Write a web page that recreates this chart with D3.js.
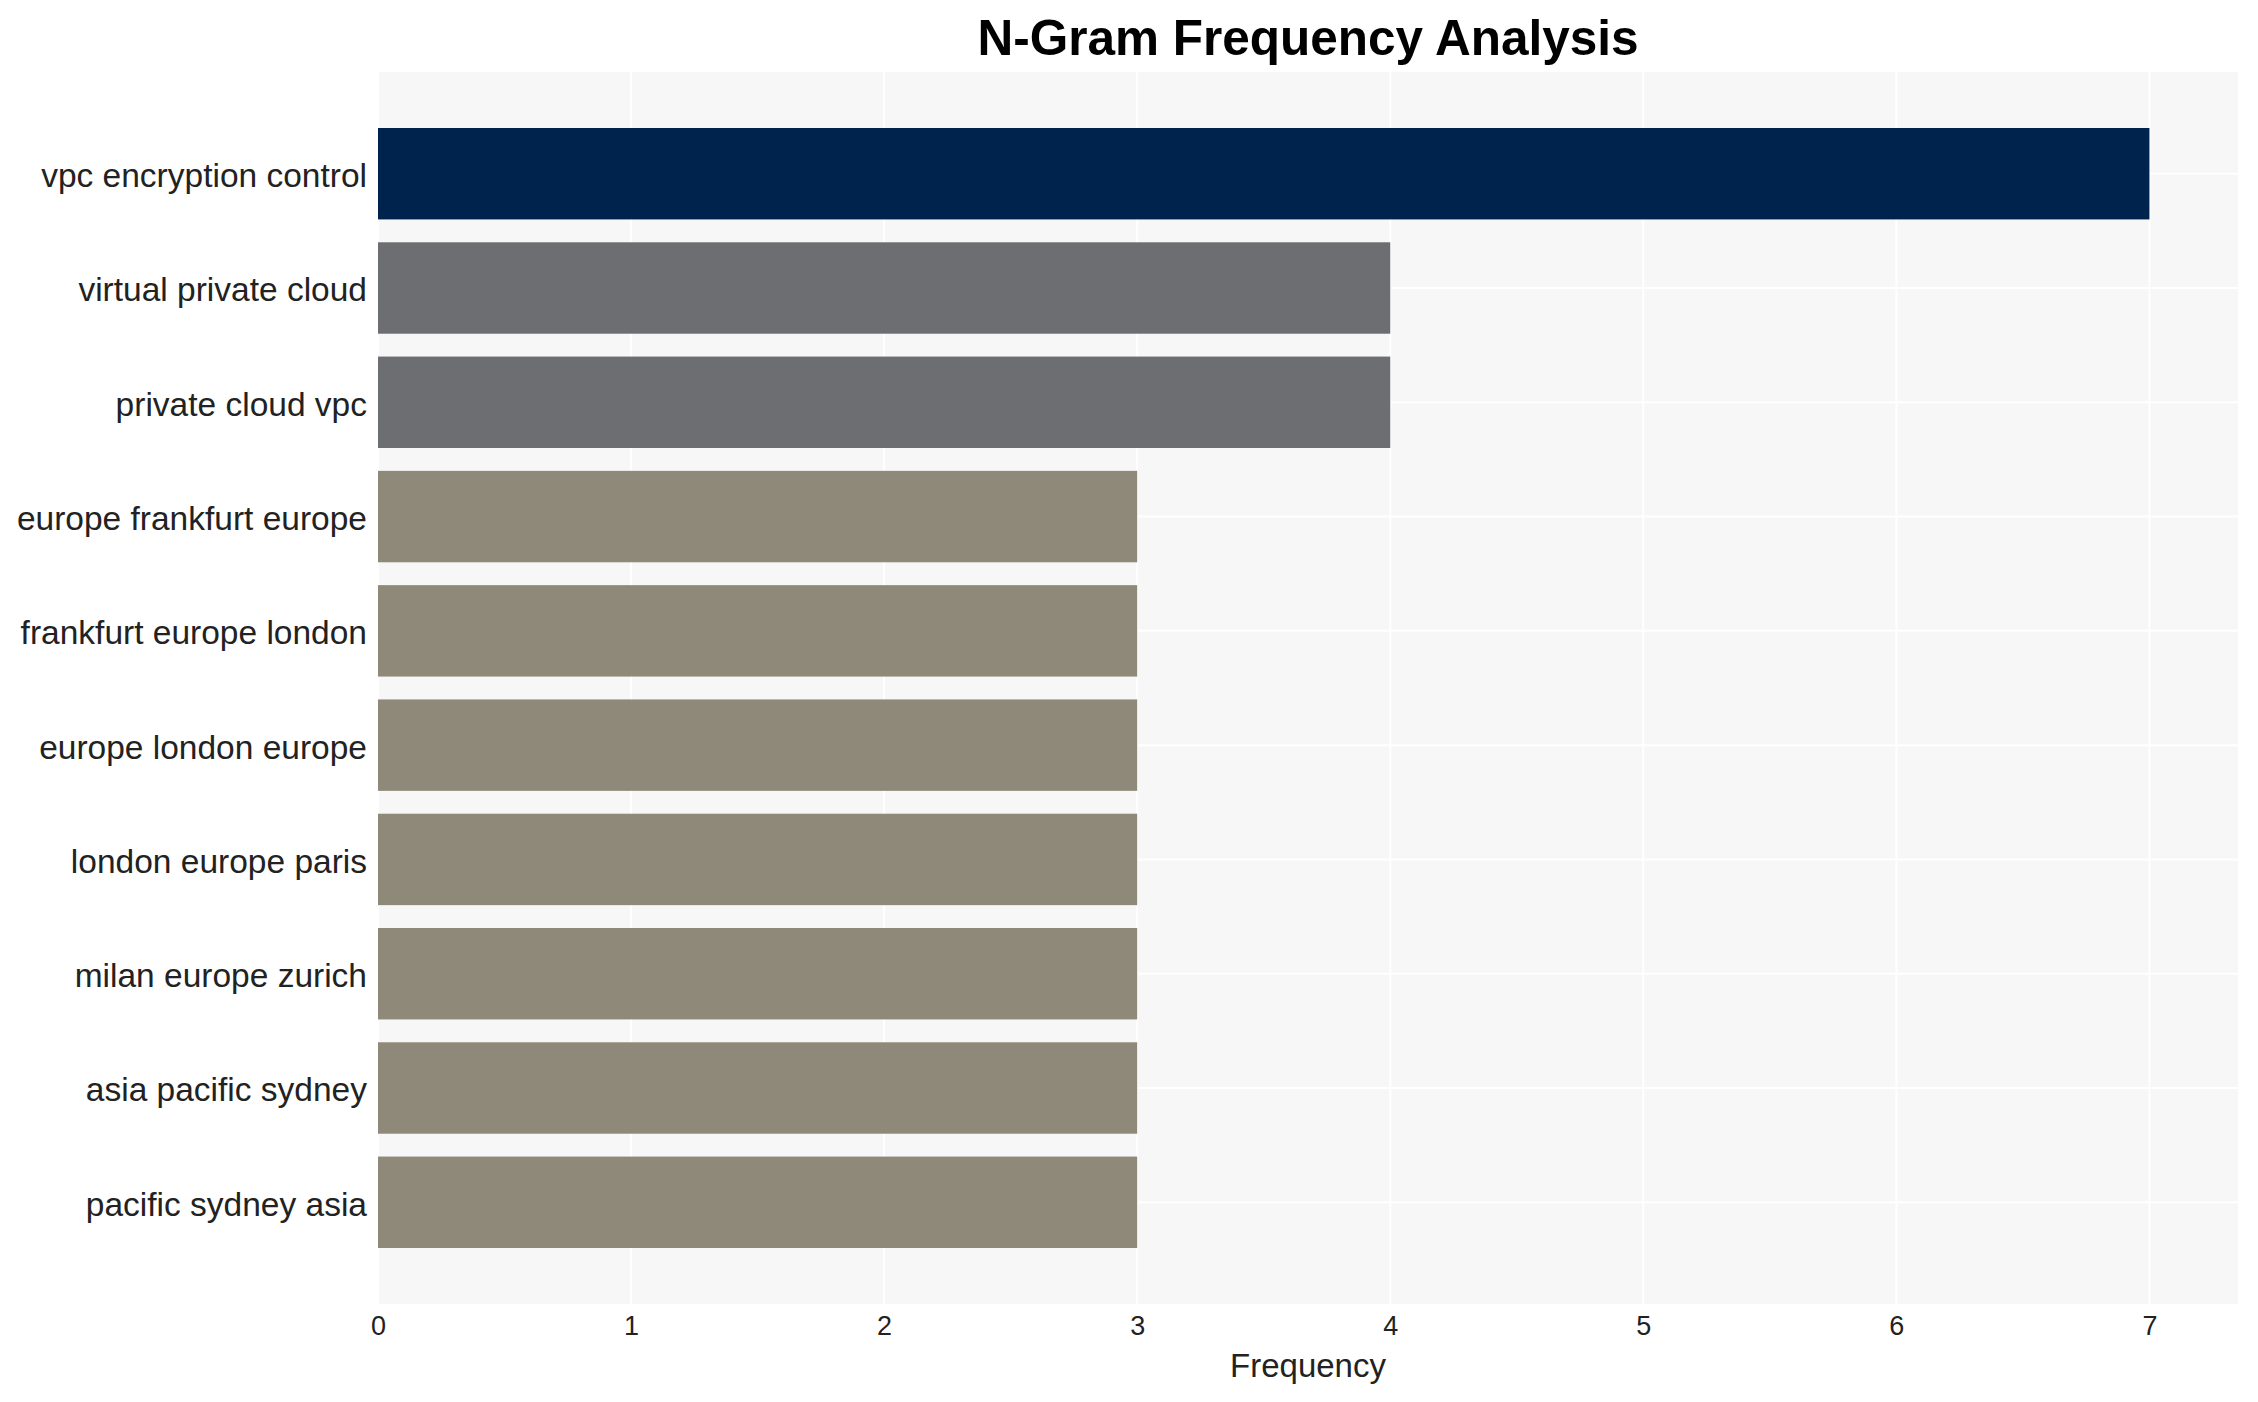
<!DOCTYPE html>
<html>
<head>
<meta charset="utf-8">
<script src="https://cdn.jsdelivr.net/npm/d3@7"></script>
<style>
  html, body { margin: 0; padding: 0; background: #fff; }
  svg text { font-family: "Liberation Sans", Arial, sans-serif; }
</style>
</head>
<body>
<svg id="chart" width="2258" height="1402"></svg>
<script>
// n-grams, top to bottom
var ngrams = [
  "vpc encryption control",
  "virtual private cloud",
  "private cloud vpc",
  "europe frankfurt europe",
  "frankfurt europe london",
  "europe london europe",
  "london europe paris",
  "milan europe zurich",
  "asia pacific sydney",
  "pacific sydney asia"
];
var counts = [7, 4, 4, 3, 3, 3, 3, 3, 3, 3];
var xTicks = [0, 1, 2, 3, 4, 5, 6, 7];

var W = 2258, H = 1402;
var margin = {top: 72, right: 20, bottom: 98, left: 378};
var plotW = W - margin.left - margin.right,
    plotH = H - margin.top - margin.bottom;

// bar colour by count
var colorFor = function(v) {
  if (v >= 7) return "#00234e";
  if (v >= 4) return "#6d6e72";
  return "#8f8979";
};

var svg = d3.select("#chart");

var x = d3.scaleLinear()
  .domain([0, d3.max(counts) * 1.05])
  .range([0, plotW]);

var y = d3.scaleBand()
  .domain(ngrams)
  .range([0, plotH])
  .paddingInner(0.2)
  .paddingOuter(0.49);

var g = svg.append("g")
  .attr("transform", "translate(" + margin.left + "," + margin.top + ")");

g.append("rect")
  .attr("width", plotW)
  .attr("height", plotH)
  .attr("fill", "#f7f7f7");

// grid
g.selectAll(".vgrid").data(xTicks).enter().append("line")
  .attr("x1", function(d) { return x(d); })
  .attr("x2", function(d) { return x(d); })
  .attr("y1", 0).attr("y2", plotH)
  .attr("stroke", "#fff").attr("stroke-width", 2);

g.selectAll(".hgrid").data(ngrams).enter().append("line")
  .attr("x1", 0).attr("x2", plotW)
  .attr("y1", function(d) { return y(d) + y.bandwidth() / 2; })
  .attr("y2", function(d) { return y(d) + y.bandwidth() / 2; })
  .attr("stroke", "#fff").attr("stroke-width", 2);

// bars
g.selectAll(".bar").data(ngrams).enter().append("rect")
  .attr("x", 0)
  .attr("y", function(d) { return y(d); })
  .attr("width", function(d, i) { return x(counts[i]); })
  .attr("height", y.bandwidth())
  .attr("fill", function(d, i) { return colorFor(counts[i]); });

// y axis labels
var yAxis = g.append("g")
  .call(d3.axisLeft(y).tickSize(0).tickPadding(11));
yAxis.select(".domain").remove();
yAxis.selectAll("text")
  .attr("font-size", 33.5)
  .attr("dy", "0.4em")
  .attr("fill", "#222");

// x axis labels
var xAxis = g.append("g")
  .attr("transform", "translate(0," + plotH + ")")
  .call(d3.axisBottom(x).tickValues(xTicks).tickFormat(d3.format("d")).tickSize(0).tickPadding(12));
xAxis.select(".domain").remove();
xAxis.selectAll("text")
  .attr("font-size", 27)
  .attr("fill", "#222");

svg.append("text")
  .attr("x", margin.left + plotW / 2)
  .attr("y", 1377)
  .attr("text-anchor", "middle")
  .attr("font-size", 33)
  .attr("fill", "#222")
  .text("Frequency");

svg.append("text")
  .attr("x", margin.left + plotW / 2)
  .attr("y", 55)
  .attr("text-anchor", "middle")
  .attr("font-size", 49.5)
  .attr("font-weight", "bold")
  .attr("fill", "#000")
  .text("N-Gram Frequency Analysis");
</script>
</body>
</html>
